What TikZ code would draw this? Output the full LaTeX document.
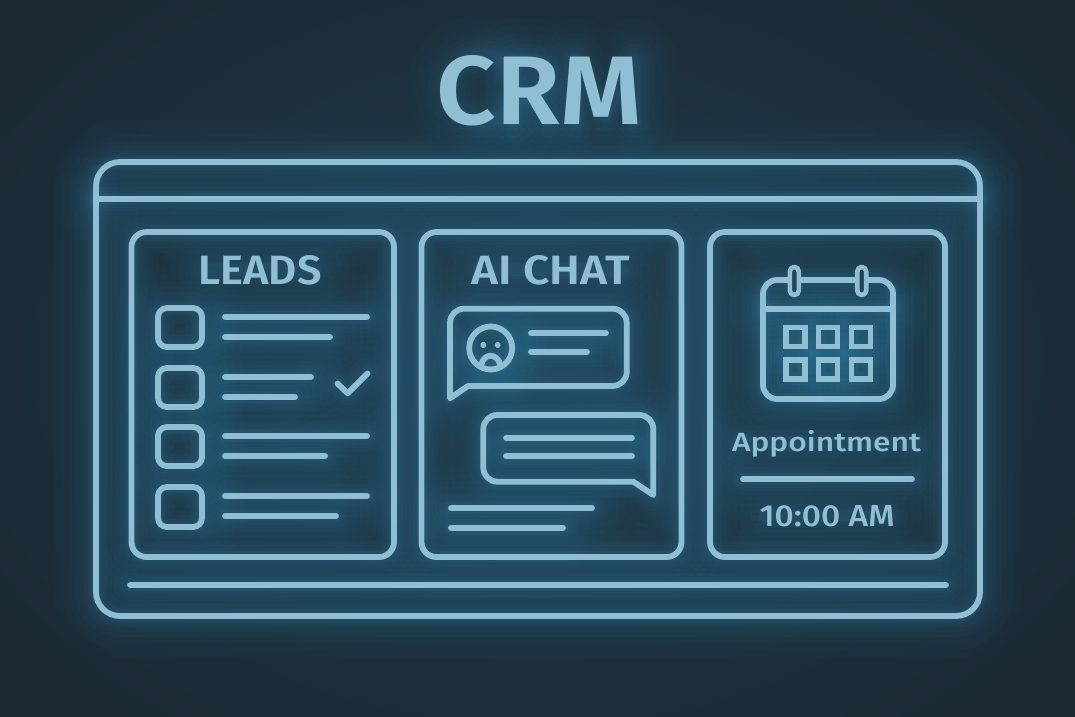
\documentclass[tikz,border=0pt]{standalone}
\usepackage{fontspec}
\usepackage{graphicx}
\setmainfont{Liberation Sans}
\newfontfamily\medfont{Fira Sans Medium}
\newfontfamily\semifont{Fira Sans SemiBold}
\definecolor{bgdark}{HTML}{1B2A35}
\definecolor{bgmid}{HTML}{21394A}
\definecolor{neon}{HTML}{90BFD3}
\definecolor{halo}{HTML}{3A8DBA}
\definecolor{ringfill}{HTML}{224459}
\tikzset{
  neonline/.style={draw=neon,line width=5.8pt,line cap=round,line join=round},
  thinline/.style={draw=neon,line width=4.6pt,line cap=round,line join=round},
  label/.style={text=neon,inner sep=0pt,anchor=base}
}
% every stroked shape, with #1 as the stroke style
\newcommand\allshapes[1]{
  % outer window
  \draw[#1,rounded corners=24pt] (96,162) rectangle (980,616);
  \draw[#1] (96,199) -- (980,199);
  \draw[#1] (130,585) -- (946,585);
  % panels
  \draw[#1,rounded corners=15pt] (131.5,232) rectangle (394,557);
  \draw[#1,rounded corners=15pt] (421.5,232) rectangle (681.5,557);
  \draw[#1,rounded corners=15pt] (710,232) rectangle (945,557);
  % leads
  \draw[#1,rounded corners=9pt] (158,308) rectangle (202,347);
  \draw[#1,rounded corners=9pt] (158,368) rectangle (202,407);
  \draw[#1,rounded corners=9pt] (158,427) rectangle (202,466);
  \draw[#1,rounded corners=9pt] (158,487) rectangle (202,527);
  \draw[#1] (225,316.7) -- (367,316.7);
  \draw[#1] (225,337) -- (330,337);
  \draw[#1] (225,377) -- (311,377);
  \draw[#1] (225,397) -- (295,397);
  \draw[#1] (225,436) -- (367,436);
  \draw[#1] (225,456) -- (325,456);
  \draw[#1] (225,496) -- (367,496);
  \draw[#1] (225,516) -- (336,516);
  \draw[#1] (337.5,383.5) -- (347.7,393.3) -- (367.5,373.5);
  % chat bubbles
  \draw[#1] (468,386) [rounded corners=14pt] -- (626.7,386) -- (626.7,308.7) -- (450,308.7) -- (450,360) [sharp corners] -- (450,398.3) -- (468,386);
  \draw[#1] (633.3,481.7) [rounded corners=14pt] -- (483.3,481.7) -- (483.3,415) -- (653.3,415) -- (653.3,450) [sharp corners] -- (653.3,495) -- (633.3,481.7);
  \draw[#1] (490.7,348) circle (21.5);
  \draw[#1,line width=3pt,fill=neon] (483.3,345) circle (1.7);
  \draw[#1,line width=3pt,fill=neon] (497.7,345) circle (1.7);
  \draw[#1] (481.5,364) .. controls (484,353) and (497,353) .. (500,364);
  \draw[#1] (531,333.3) -- (606,333.3);
  \draw[#1] (531,351.7) -- (587,351.7);
  \draw[#1] (506,438) -- (632,438);
  \draw[#1] (506,456.3) -- (632,456.3);
  \draw[#1] (451,508.3) -- (592,508.3);
  \draw[#1] (451,527.7) -- (563,527.7);
  % calendar
  \draw[#1,rounded corners=14pt] (763,280) rectangle (893,399);
  \draw[#1] (763,308.7) -- (893,308.7);
  \draw[#1,line join=miter] (785.8,327.5) rectangle (804.8,346.5);
  \draw[#1,line join=miter] (818.5,327.5) rectangle (837.5,346.5);
  \draw[#1,line join=miter] (851.5,327.5) rectangle (870.5,346.5);
  \draw[#1,line join=miter] (785.8,359.8) rectangle (804.8,378.8);
  \draw[#1,line join=miter] (818.5,359.8) rectangle (837.5,378.8);
  \draw[#1,line join=miter] (851.5,359.8) rectangle (870.5,378.8);
  \draw[#1] (743,479.3) -- (912,479.3);
}
% skeletons of the lettering, used for the halo only
\newcommand\lettering[1]{
  \draw[#1] ([shift={(40:33)}]482,89) arc (40:320:33);
  \draw[#1] (514,122) -- (514,60) -- (532,60) .. controls (552,60) and (552,96) .. (532,96) -- (514,96);
  \draw[#1] (532,96) -- (549,122);
  \draw[#1] (576,122) -- (576,60) -- (605,116) -- (634,60) -- (634,122);
  \draw[#1] (205,270) -- (315,270);
  \draw[#1] (480,270) -- (622,270);
  \draw[#1] (740,442) -- (914,442);
  \draw[#1] (766,516) -- (888,516);
}
\begin{document}
\begin{tikzpicture}[x=1pt,y=-1pt]
\useasboundingbox (0,0) rectangle (1075,716);
\fill[bgdark] (0,0) rectangle (1075,716);
\shade[inner color=bgmid,outer color=bgdark] (-120,-120) rectangle (1195,836);
% halo layers
\foreach \w/\o in {84/.022,68/.026,54/.03,42/.035,32/.04,24/.045,17/.055,12/.07}{
  \allshapes{draw=halo,line width=\w pt,draw opacity=\o,line cap=round,line join=round}
  \lettering{draw=halo,line width=\w pt,draw opacity=\o,line cap=round,line join=round}
}
% crisp strokes
\allshapes{neonline}
% calendar rings
\draw[neonline,line width=4.6pt,fill=ringfill,rounded corners=4.4pt] (789.8,267) rectangle (798.8,295);
\draw[neonline,line width=4.6pt,fill=ringfill,rounded corners=4.4pt] (857.2,267) rectangle (866.2,295);
% text
\node[label] (crm) at (539.5,124) {\resizebox{205pt}{69pt}{\semifont CRM}};
\node[label] (leads) at (260,284) {\resizebox{123pt}{29pt}{\semifont LEADS}};
\node[label] (aichat) at (550.5,284) {\resizebox{158pt}{29pt}{\semifont AI CHAT}};
\node[label] (appt) at (826.5,451.7) {\resizebox{189pt}{21pt}{\medfont Appointment}};
\node[label] (time) at (827,526.7) {\resizebox{135pt}{21pt}{\medfont 10:00 AM}};
\end{tikzpicture}
\end{document}
